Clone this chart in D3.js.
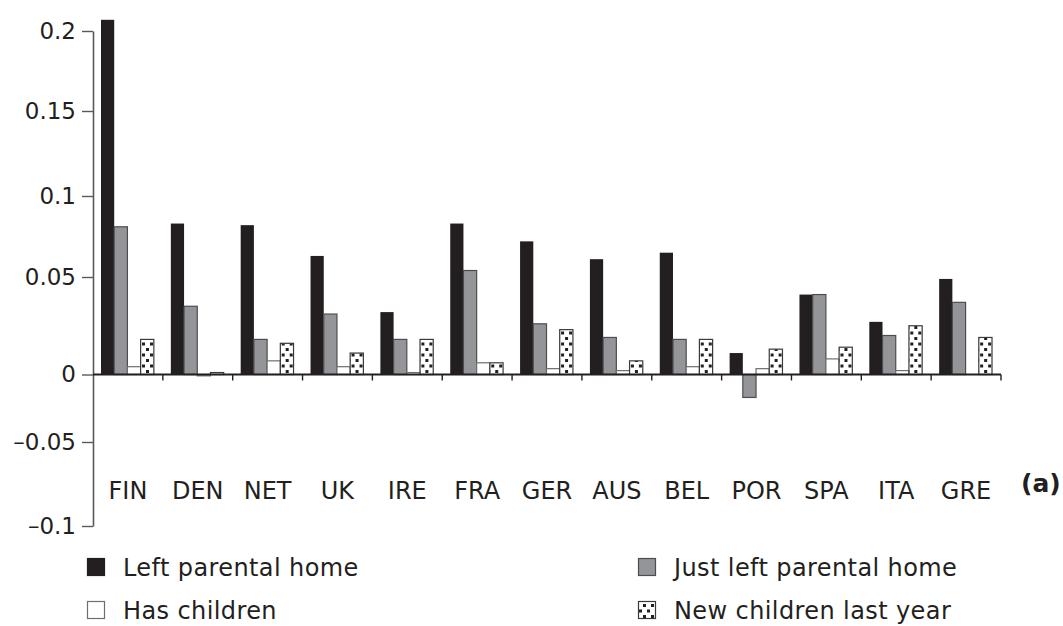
<!DOCTYPE html>
<html>
<head>
<meta charset="utf-8">
<script src="https://cdn.jsdelivr.net/npm/d3@7"></script>
<style>
  body { margin: 0; background: #fff; }
  svg { display: block; }
  text { font-family: "DejaVu Sans", "Liberation Sans", Arial, sans-serif; fill: #231f20; }
</style>
</head>
<body>
<div id="chart"></div>
<script>
// data
const countries = ["FIN", "DEN", "NET", "UK", "IRE", "FRA", "GER", "AUS", "BEL", "POR", "SPA", "ITA", "GRE"];
const series = ["Left parental home", "Just left parental home", "Has children", "New children last year"];
const leftHome     = [0.207, 0.083, 0.082, 0.063, 0.032, 0.083, 0.072, 0.061, 0.065, 0.011, 0.041, 0.027, 0.049];
const justLeft     = [0.081, 0.035, 0.018, 0.031, 0.018, 0.054, 0.026, 0.019, 0.018, -0.017, 0.041, 0.020, 0.037];
const hasChildren  = [0.004, -0.001, 0.007, 0.004, 0.001, 0.006, 0.003, 0.002, 0.004, 0.003, 0.008, 0.002, 0.000];
const newChildren  = [0.018, 0.001, 0.016, 0.011, 0.018, 0.006, 0.023, 0.007, 0.018, 0.013, 0.014, 0.025, 0.019];
const yTicks = [-0.1, -0.05, 0, 0.05, 0.1, 0.15, 0.2];

const values = [leftHome, justLeft, hasChildren, newChildren];
const data = countries.map((c, i) => ({country: c, vals: series.map((s, j) => ({key: s, value: values[j][i]}))}));

const width = 1063, height = 626;
const svg = d3.select("#chart").append("svg")
    .attr("width", width)
    .attr("height", height);

// pattern for the dotted series
const defs = svg.append("defs");
const pat = defs.append("pattern")
    .attr("id", "dots")
    .attr("patternUnits", "userSpaceOnUse")
    .attr("width", 8)
    .attr("height", 11);
pat.append("rect").attr("width", 8).attr("height", 11).attr("fill", "#fff");
pat.append("rect").attr("x", 1).attr("y", 1.5).attr("width", 3).attr("height", 3).attr("fill", "#231f20");
pat.append("rect").attr("x", 5).attr("y", 7).attr("width", 3).attr("height", 3).attr("fill", "#231f20");

const fills = ["#231f20", "#939598", "#ffffff", "url(#dots)"];
const strokes = ["none", "#4d4d4f", "#6d6e71", "#3a3a3c"];

// the printed axis is not evenly spaced, so follow its tick positions
const y = d3.scaleLinear()
    .domain(yTicks)
    .range([526, 442, 374.5, 277, 196, 111, 31]);

const x0 = d3.scaleBand(countries, [93, 1001]);
const x1 = d3.scaleBand(series, [8, x0.bandwidth() - 9]);

// bars
svg.append("g")
    .selectAll("g")
    .data(data)
    .join("g")
        .attr("transform", d => `translate(${x0(d.country)},0)`)
    .selectAll("rect")
    .data(d => d.vals)
    .join("rect")
        .attr("x", d => x1(d.key))
        .attr("width", x1.bandwidth())
        .attr("y", d => y(Math.max(0, d.value)))
        .attr("height", d => Math.abs(y(d.value) - y(0)))
        .attr("fill", d => fills[series.indexOf(d.key)])
        .attr("stroke", d => strokes[series.indexOf(d.key)])
        .attr("stroke-width", 1.2);

// y axis
svg.append("g")
    .attr("transform", "translate(93,0)")
    .call(d3.axisLeft(y)
        .tickValues(yTicks)
        .tickSize(11)
        .tickSizeOuter(0)
        .tickPadding(6)
        .tickFormat(d => d === 0 ? "0" : (d < 0 ? "\u2013" : "") + d3.format("")(Math.abs(d))))
    .call(g => g.select(".domain").attr("stroke", "#58595b").attr("stroke-width", 1.6))
    .call(g => g.selectAll(".tick line").attr("stroke", "#58595b").attr("stroke-width", 1.4))
    .call(g => g.selectAll(".tick text")
        .attr("font-size", 23)
        .attr("font-family", null)
        .attr("fill", "#231f20"));

// zero line with group ticks
const xAxis = svg.append("g");
xAxis.append("line")
    .attr("x1", x0.range()[0])
    .attr("x2", x0.range()[1])
    .attr("y1", y(0))
    .attr("y2", y(0))
    .attr("stroke", "#231f20")
    .attr("stroke-width", 2);
xAxis.selectAll("line.tk")
    .data(countries)
    .join("line")
        .attr("class", "tk")
        .attr("x1", d => x0(d) + x0.bandwidth())
        .attr("x2", d => x0(d) + x0.bandwidth())
        .attr("y1", y(0))
        .attr("y2", y(0) + 6)
        .attr("stroke", "#231f20")
        .attr("stroke-width", 1.4);

// category labels
svg.append("g")
    .selectAll("text")
    .data(countries)
    .join("text")
        .attr("x", d => x0(d) + x0.bandwidth() / 2)
        .attr("y", 499)
        .attr("text-anchor", "middle")
        .attr("font-size", 24)
        .text(d => d);

svg.append("text")
    .attr("x", 1021)
    .attr("y", 492)
    .attr("font-size", 25)
    .attr("font-weight", "bold")
    .text("(a)");

// legend
const legendPos = [[87, 576], [638, 576], [87, 619], [638, 619]];
const legend = svg.append("g")
    .selectAll("g")
    .data(series)
    .join("g")
        .attr("transform", (d, i) => `translate(${legendPos[i][0]},${legendPos[i][1]})`);
legend.append("rect")
    .attr("x", 0.5)
    .attr("y", -17.5)
    .attr("width", 17)
    .attr("height", 17)
    .attr("fill", (d, i) => fills[i])
    .attr("stroke", (d, i) => i === 0 ? "#231f20" : strokes[i])
    .attr("stroke-width", 1.2);
legend.append("text")
    .attr("x", 36)
    .attr("font-size", 24)
    .attr("letter-spacing", "0.4px")
    .text(d => d);
</script>
</body>
</html>
